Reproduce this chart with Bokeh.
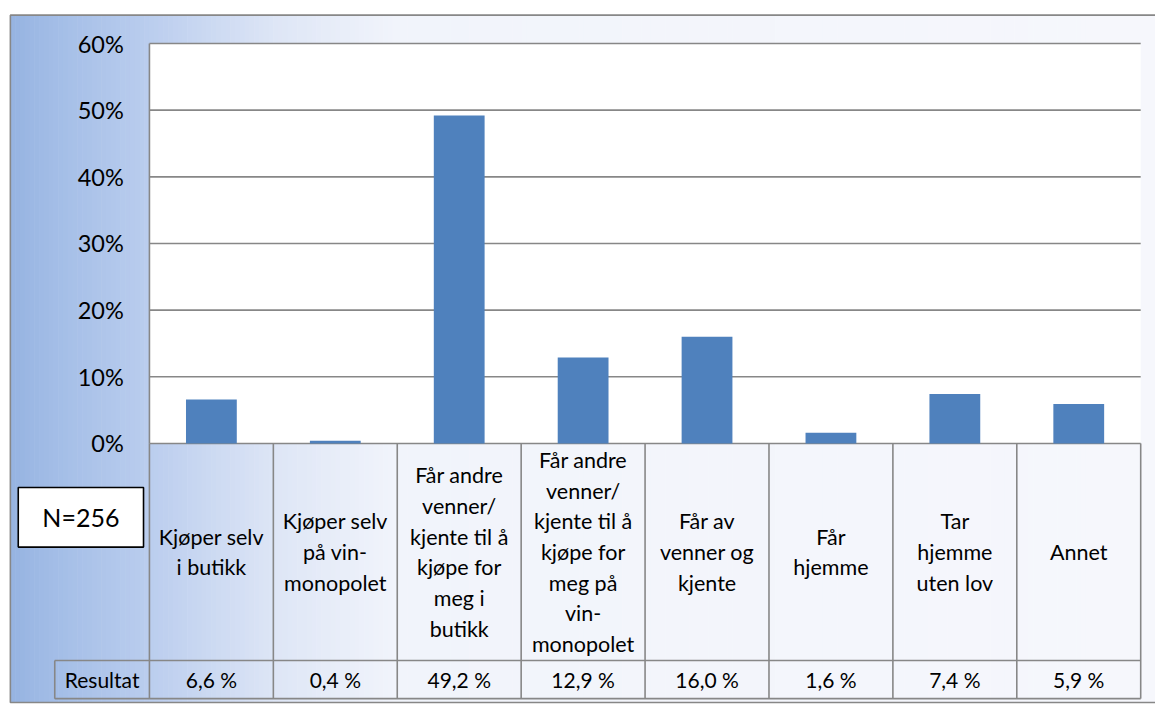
import numpy as np
from bokeh.plotting import figure
from bokeh.models import ColumnDataSource, Range1d
from bokeh.core.properties import value
from bokeh.embed import file_html
from bokeh.resources import INLINE

# ---------------- data ----------------
categories = [
    "Kjøper selv\ni butikk",
    "Kjøper selv\npå vin-\nmonopolet",
    "Får andre\nvenner/\nkjente til å\nkjøpe for\nmeg i\nbutikk",
    "Får andre\nvenner/\nkjente til å\nkjøpe for\nmeg på\nvin-\nmonopolet",
    "Får av\nvenner og\nkjente",
    "Får\nhjemme",
    "Tar\nhjemme\nuten lov",
    "Annet",
]
values_pct = [6.6, 0.4, 49.2, 12.9, 16.0, 1.6, 7.4, 5.9]
result_labels = ["6,6 %", "0,4 %", "49,2 %", "12,9 %", "16,0 %", "1,6 %", "7,4 %", "5,9 %"]
y_ticks = [0, 10, 20, 30, 40, 50, 60]
y_tick_labels = ["0%", "10%", "20%", "30%", "40%", "50%", "60%"]
row_label = "Resultat"
n_label = "N=256"

# ---------------- geometry (reference px scaled to canvas) ----------------
W, H = 1155, 704
SX = W / 1171.0
SY = H / 720.0

def cx(ref_x):
    return ref_x * SX

def cy(ref_y):
    return ref_y * SY

PX_LEFT = cx(151)
COL_W = (cx(1156) - cx(151)) / 8
PX_ZERO = cy(453)
PX_PER_PCT = (cy(453) - cy(44)) / 60

def dx(px):
    return (px - PX_LEFT) / COL_W

def dy(py):
    return (PX_ZERO - py) / PX_PER_PCT

n = len(categories)
ymax = max(y_ticks)

p = figure(width=W, height=H, output_backend="svg", toolbar_location=None,
           x_range=Range1d(dx(0), dx(W)), y_range=Range1d(dy(H), dy(0)),
           x_axis_type=None, y_axis_type=None, min_border=0,
           background_fill_color="white", border_fill_color="white")
p.outline_line_color = None
p.grid.visible = False

FONT = value("Lato")
GRID_C = "#878787"

# ---------------- background gradient ----------------
stops_px = [10, 60, 150, 280, 400, 1171]
stops_rgb = np.array([(150, 179, 225), (164, 190, 231), (186, 205, 238),
                      (222, 230, 246), (241, 244, 251), (246, 247, 252)], float)
edges = np.linspace(cx(10), W + 2, 241)
lefts, rights, cols = [], [], []
for a, b in zip(edges[:-1], edges[1:]):
    mid = ((a + b) / 2) / SX
    c = [np.interp(mid, stops_px, stops_rgb[:, k]) for k in range(3)]
    lefts.append(dx(a)); rights.append(dx(b + 0.6))
    cols.append("#%02x%02x%02x" % tuple(int(round(v)) for v in c))
p.quad(left=lefts, right=rights, top=dy(cy(15)), bottom=dy(cy(718)), color=cols, line_color=None)

# plot area
p.quad(left=0, right=n, bottom=0, top=ymax, fill_color="white", line_color=None)

# gridlines and axis line
p.segment(x0=[0] * len(y_ticks), x1=[n] * len(y_ticks), y0=y_ticks, y1=y_ticks,
          line_color=GRID_C, line_width=1.6)
p.segment(x0=[0], x1=[0], y0=[0], y1=[ymax], line_color=GRID_C, line_width=1.6)

# y tick labels
p.text(x=[dx(cx(125))] * len(y_ticks), y=y_ticks, text=y_tick_labels, text_font=FONT,
       text_font_size=value("23.5px"), text_align="right", text_baseline="middle",
       text_color="black")

# bars
src = ColumnDataSource(dict(x=[i + 0.5 for i in range(n)], top=values_pct))
p.vbar(x="x", top="top", width=0.41, source=src, fill_color="#4F81BD", line_color=None)

# ---------------- data table ----------------
cat_bottom = dy(cy(675))
res_bottom = dy(cy(714))
res_left = dx(cx(55))
p.segment(x0=list(range(n + 1)), x1=list(range(n + 1)), y0=[0] * (n + 1),
          y1=[res_bottom] * (n + 1), line_color=GRID_C, line_width=1.6)
p.segment(x0=[res_left, res_left, res_left], x1=[n, n, res_left],
          y0=[cat_bottom, res_bottom, cat_bottom], y1=[cat_bottom, res_bottom, res_bottom],
          line_color=GRID_C, line_width=1.6)

p.text(x=[i + 0.5 for i in range(n)], y=[dy(cy(564))] * n, text=categories, text_font=FONT,
       text_font_size=value("21.5px"), text_align="center", text_baseline="middle",
       text_line_height=1.18, text_color="black")
p.text(x=[i + 0.5 for i in range(n)], y=[(cat_bottom + res_bottom) / 2] * n,
       text=result_labels, text_font=FONT, text_font_size=value("21px"),
       text_align="center", text_baseline="middle", text_color="black")
p.text(x=[(res_left + 0) / 2], y=[(cat_bottom + res_bottom) / 2], text=[row_label],
       text_font=FONT, text_font_size=value("21px"), text_align="center",
       text_baseline="middle", text_color="black")

# N box
bl, br, bt, bb = dx(cx(18)), dx(cx(145)), dy(cy(498)), dy(cy(559))
p.quad(left=bl, right=br, top=bt, bottom=bb, fill_color="white",
       line_color="black", line_width=1.6)
p.text(x=[(bl + br) / 2], y=[(bt + bb) / 2], text=[n_label],
       text_font=FONT, text_font_size=value("25px"), text_align="center",
       text_baseline="middle", text_color="black")

# outer chart border
p.quad(left=dx(cx(10)), right=dx(W + 10), top=dy(cy(15)), bottom=dy(cy(718)), fill_color=None,
       line_color=GRID_C, line_width=1.6)

open("out.html", "w").write(file_html(p, INLINE))
